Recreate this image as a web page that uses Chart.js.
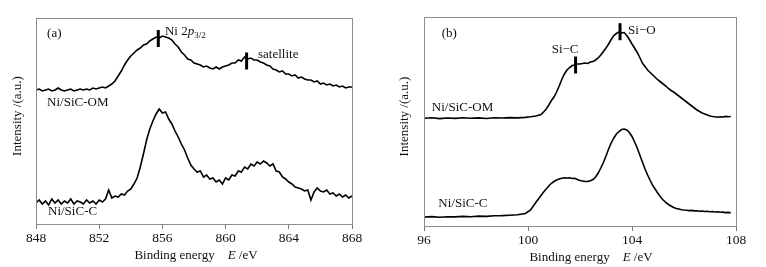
<!DOCTYPE html>
<html><head><meta charset="utf-8">
<script src="https://cdn.jsdelivr.net/npm/chart.js@4/dist/chart.umd.min.js"></script>
<style>
html,body{margin:0;padding:0;background:#fff;}
#wrap{position:relative;width:766px;height:267px;overflow:hidden;}
canvas{position:absolute;top:0;}
</style></head><body>
<div id="wrap">
<canvas id="ca" width="383" height="267" style="left:0"></canvas>
<canvas id="cb" width="383" height="267" style="left:383px"></canvas>
</div>
<script>
// ---------- Panel (a): Ni 2p ----------
const energyA = [848,848.2,848.4,848.6,848.8,849,849.2,849.4,849.6,849.8,
850,850.2,850.4,850.6,850.8,851,851.2,851.4,851.6,851.8,
852,852.2,852.4,852.6,852.8,853,853.2,853.4,853.6,853.8,
854,854.2,854.4,854.6,854.8,855,855.2,855.4,855.6,855.8,
856,856.2,856.4,856.6,856.8,857,857.2,857.4,857.6,857.8,
858,858.2,858.4,858.6,858.8,859,859.2,859.4,859.6,859.8,
860,860.2,860.4,860.6,860.8,861,861.2,861.4,861.6,861.8,
862,862.2,862.4,862.6,862.8,863,863.2,863.4,863.6,863.8,
864,864.2,864.4,864.6,864.8,865,865.2,865.4,865.6,865.8,
866,866.2,866.4,866.6,866.8,867,867.2,867.4,867.6,867.8,868];
const niOM_A = [134,135,133,134,135,133,134,136,134,133,
134,135,133,134,135,134,135,134,136,135,
136,137,136,138,140,143,148,153,159,164,
168,171,174,176,179,180,183,185,187,186,
188,187,186,184,180,177,172,169,165,164,
161,160,159,157,158,156,155,157,155,157,
158,159,161,161,164,163,167,165,166,164,
164,162,161,159,158,155,154,152,153,150,
150,148,149,146,147,145,144,144,142,143,
140,141,139,140,138,139,137,138,136,137,137];
const niC_A = [21,24,20,23,19,25,21,24,20,23,
21,25,20,23,22,20,24,21,23,20,
24,22,25,34,26,28,27,30,29,33,
35,40,46,57,70,84,95,103,110,115,
111,112,105,100,93,87,80,74,66,59,
55,52,53,47,49,45,46,42,44,40,
46,44,49,48,53,52,57,55,60,58,
62,60,63,61,58,60,53,52,47,45,
42,40,37,36,35,33,34,24,32,36,
33,32,34,30,31,28,30,27,29,26,28];
const ticksA = [848,852,856,860,864,868];

// ---------- Panel (b): Si 2p ----------
const energyB = [96,96.3,96.6,96.9,97.2,97.5,97.8,98.1,98.4,98.7,
99,99.3,99.6,99.9,100.1,100.3,100.5,100.6,100.7,100.8,
100.9,101,101.1,101.2,101.3,101.4,101.5,101.6,101.7,101.8,
101.9,102,102.1,102.2,102.3,102.4,102.5,102.6,102.7,102.8,
102.9,103,103.1,103.2,103.3,103.4,103.5,103.6,103.7,103.8,
103.9,104,104.1,104.2,104.3,104.4,104.5,104.6,104.7,104.8,
104.9,105,105.1,105.2,105.3,105.4,105.5,105.6,105.7,105.8,
105.9,106,106.1,106.2,106.3,106.4,106.5,106.6,106.7,106.8,
106.9,107,107.1,107.2,107.3,107.4,107.5,107.6,107.7,107.8];
const siOM_B = [107.7,108.2,107.4,108,107.6,108.3,107.8,108.1,107.5,108.2,
108,108.4,108.1,108.6,109.2,110,111.5,114,117,121,
125.5,129,134,140,146.5,152,156,158.5,160.5,161,
162,162,162.5,163,162.5,164,164.5,166,168,171,
174.5,178,182,186.5,190.5,192.5,194,193,193.5,190.5,
186.5,182,178,173.5,168.5,163,159.5,156,153.5,151,
148.5,146,144,142,140,137.5,135.5,134,132,130,
128,126,124,122,120,118,116,114.5,113,112,
111,110,109.5,109.2,108.7,109.3,109,109.6,109.2,109.5];
const siC_B = [9,9.4,8.8,9.3,9.1,9.6,9.3,9.9,9.6,10.2,
10.4,10.8,11.3,12.5,16,23.5,30.5,34,37,40,
42.7,44.5,46,47,47.8,48.3,48,48.2,47.5,47.8,
46.5,45.5,45,44.5,44.6,45.2,46.5,49,53,58,
63.5,70,77,83,88,92,94.5,96.5,97,96,
93.5,89.5,84,78,71,64,57,51,45.5,40.5,
36.5,32.5,29,26,23.5,21.5,20,18.5,17.5,17,
16.3,16,15.8,15.4,15.6,15.1,15.3,14.8,14.9,14.5,
14.7,14.3,14.5,14,14.2,13.7,13.9,13.4,13.6,13.2];
const ticksB = [96,100,104,108];

// Peak markers and annotation labels (data coordinates)
const markersA = [{e:855.74, v:185.5}, {e:861.33, v:163}];
const markersB = [{e:101.83, v:161}, {e:103.54, v:194.3}];
const labelsA = [
  {e:848.7, v:190, segs:[{t:'(a)'}]},
  {e:856.16, v:192, segs:[{t:'Ni 2'},{t:'p',it:true},{t:'3/2',sz:9,dy:4}]},
  {e:862.05, v:169, segs:[{t:'satellite'}]},
  {e:848.7, v:121, segs:[{t:'Ni/SiC-OM'}]},
  {e:848.76, v:12, segs:[{t:'Ni/SiC-C'}]}
];
const labelsB = [
  {e:96.68, v:192.7, segs:[{t:'(b)'}]},
  {e:100.91, v:176, segs:[{t:'Si\u2212C'}]},
  {e:103.85, v:195.3, segs:[{t:'Si\u2212O'}]},
  {e:96.3, v:118, segs:[{t:'Ni/SiC-OM'}]},
  {e:96.55, v:22, segs:[{t:'Ni/SiC-C'}]}
];
const yTitle = 'Intensity /(a.u.)';
const xTitleSegs = [{t:'Binding energy'},{gap:13},{t:'E',it:true},{t:' /eV'}];

const FAM = "'Liberation Serif','Times New Roman',serif";
const TXT = '#111';

function fontOf(s){ return (s.it?'italic ':'') + (s.sz||13) + 'px ' + FAM; }
function richWidth(ctx, segs){
  let w=0; segs.forEach(s=>{ if(s.gap){w+=s.gap;return;} ctx.font=fontOf(s); w+=ctx.measureText(s.t).width; }); return w;
}
function drawRich(ctx, segs, x, y, align){
  let cx = x;
  if(align==='center') cx = x - richWidth(ctx, segs)/2;
  ctx.textBaseline='middle'; ctx.textAlign='left'; ctx.fillStyle=TXT;
  segs.forEach(s=>{
    if(s.gap){cx+=s.gap;return;}
    ctx.font=fontOf(s);
    ctx.fillText(s.t, cx, y+(s.dy||0));
    cx += ctx.measureText(s.t).width;
  });
}

function panelPlugin(opt){
  return {id:'panel', afterDraw(chart){
    const ctx=chart.ctx, a=chart.chartArea, xs=chart.scales.x, ys=chart.scales.y;
    ctx.save();
    ctx.strokeStyle='#8c8c8c'; ctx.lineWidth=1;
    ctx.strokeRect(Math.round(a.left)+0.5, Math.round(a.top)+0.5, Math.round(a.right-a.left), Math.round(a.bottom-a.top));
    ctx.strokeStyle='#000'; ctx.lineWidth=3;
    opt.markers.forEach(m=>{
      const px=xs.getPixelForValue(m.e), py=ys.getPixelForValue(m.v);
      ctx.beginPath(); ctx.moveTo(px,py-8.5); ctx.lineTo(px,py+8.5); ctx.stroke();
    });
    opt.labels.forEach(l=>drawRich(ctx, l.segs, xs.getPixelForValue(l.e), ys.getPixelForValue(l.v), 'left'));
    drawRich(ctx, xTitleSegs, (a.left+a.right)/2 + opt.xTitleShift, a.bottom+31.5, 'center');
    ctx.save();
    ctx.translate(a.left-opt.yTitleGap, (a.top+a.bottom)/2 - 5);
    ctx.rotate(-Math.PI/2);
    ctx.font='13px '+FAM; ctx.textAlign='center'; ctx.textBaseline='middle'; ctx.fillStyle=TXT;
    ctx.fillText(yTitle, 0, 0);
    ctx.restore();
    ctx.restore();
  }};
}

function makeChart(id, xs, series, xmin, xmax, ymax, tickVals, pad, axisH, opt){
  return new Chart(document.getElementById(id), {
    type:'line',
    data:{datasets: series.map(v=>({
      data: xs.map((e,i)=>({x:e, y:v[i]})),
      borderColor:'#000', borderWidth:1.6, pointRadius:0, tension:0, fill:false
    }))},
    options:{
      responsive:false, animation:false, events:[],
      layout:{padding:pad},
      plugins:{legend:{display:false}, tooltip:{enabled:false}},
      scales:{
        x:{type:'linear', min:xmin, max:xmax,
          afterBuildTicks(s){ s.ticks = tickVals.map(v=>({value:v})); },
          afterFit(s){ s.height = axisH; },
          ticks:{font:{family:FAM, size:13.5}, color:TXT, padding:1, maxRotation:0, autoSkip:false},
          grid:{drawOnChartArea:false, drawTicks:true, tickLength:5, color:'#777'},
          border:{display:true, color:'#8c8c8c'}},
        y:{display:false, min:0, max:ymax}
      }
    },
    plugins:[panelPlugin(opt)]
  });
}

makeChart('ca', energyA, [niOM_A, niC_A], 848, 868, 206, ticksA,
  {left:36, right:31, top:18, bottom:0}, 43,
  {markers:markersA, labels:labelsA, xTitleShift:2, yTitleGap:18});
makeChart('cb', energyB, [siOM_B, siC_B], 96, 108, 209, ticksB,
  {left:41, right:30, top:17, bottom:0}, 41,
  {markers:markersB, labels:labelsB, xTitleShift:11, yTitleGap:19});
</script>
</body></html>
